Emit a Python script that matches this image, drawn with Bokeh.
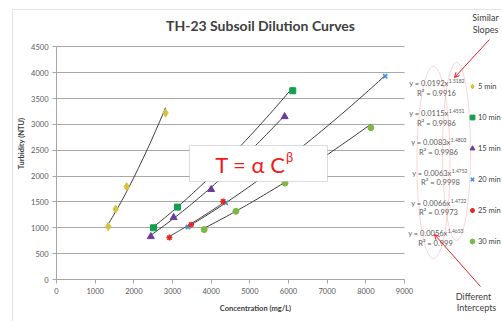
import numpy as np
from bokeh.plotting import figure
from bokeh.models import (Label, Legend, LegendItem, PolyAnnotation, BoxAnnotation,
                          Arrow, OpenHead, FixedTicker, Range1d)
from bokeh.embed import file_html
from bokeh.resources import INLINE

# ---------------- data ----------------
series_names = ["5 min", "10 min", "15 min", "20 min", "25 min", "30 min"]
conc_5 = [1340, 1530, 1815, 2820]
turb_5 = [1025, 1360, 1795, 3220]
conc_10 = [2510, 3130, 6110]
turb_10 = [1000, 1400, 3650]
conc_15 = [2440, 3030, 4000, 5900]
turb_15 = [830, 1200, 1740, 3150]
conc_20 = [3400, 4380, 8500]
turb_20 = [1015, 1480, 3930]
conc_25 = [2920, 3480, 4310]
turb_25 = [810, 1060, 1510]
conc_30 = [3820, 4640, 5910, 8130]
turb_30 = [965, 1320, 1865, 2935]
fit_alpha = [0.0192, 0.0115, 0.0083, 0.0063, 0.0066, 0.0056]
fit_beta = [1.5182, 1.4551, 1.4803, 1.4752, 1.4722, 1.4653]
alpha_text = ["0.0192", "0.0115", "0.0083", "0.0063", "0.0066", "0.0056"]
beta_text = ["1.5182", "1.4551", "1.4803", "1.4752", "1.4722", "1.4653"]
r2_text = ["0.9916", "0.9986", "0.9986", "0.9998", "0.9973", "0.999"]
x_ticks = [0, 1000, 2000, 3000, 4000, 5000, 6000, 7000, 8000, 9000]
y_ticks = [0, 500, 1000, 1500, 2000, 2500, 3000, 3500, 4000, 4500]
X_MAX, Y_MAX = 9000, 4500

conc = [conc_5, conc_10, conc_15, conc_20, conc_25, conc_30]
turb = [turb_5, turb_10, turb_15, turb_20, turb_25, turb_30]

# ---------------- styles / layout ----------------
markers = ["diamond", "square", "triangle", "x", "asterisk", "circle"]
colors = ["#D9C13C", "#12A04E", "#6A3C9E", "#3C8ED8", "#E8261E", "#7DB845"]
sizes = [8, 6, 7, 6, 6, 6]
line_widths = [1, 1, 1, 1.5, 1.5, 1]
FONT = "Lato"
GRAY = "#595959"
DARK = "#404040"

W, H = 502, 321
PX_X0, PX_X1 = 56.0, 404.0      # pixel columns of x=0 and x=X_MAX
PX_Y0, PX_Y1 = 279.0, 46.3      # pixel rows of y=0 and y=Y_MAX
UX = X_MAX / (PX_X1 - PX_X0)
UY = Y_MAX / (PX_Y0 - PX_Y1)


def DX(px):
    return (px - PX_X0) * UX


def DY(py):
    return (PX_Y0 - py) * UY


p = figure(width=W, height=H,
           x_range=Range1d(DX(0), DX(W)), y_range=Range1d(DY(H), DY(0)),
           output_backend="svg", toolbar_location=None,
           min_border_left=0, min_border_right=0, min_border_top=0, min_border_bottom=0)
p.outline_line_color = None
p.background_fill_color = "white"
p.border_fill_color = "white"
p.xgrid.visible = False
p.ygrid.grid_line_color = "#A8A8A8"
p.ygrid.grid_line_width = 1
p.ygrid.bounds = (0, Y_MAX)
p.ygrid.cross_bounds = (0, X_MAX)

for ax, ticks, bnd in ((p.xaxis, x_ticks, (0, X_MAX)), (p.yaxis, y_ticks, (0, Y_MAX))):
    ax.ticker = FixedTicker(ticks=ticks)
    ax.fixed_location = 0
    ax.bounds = bnd
    ax.axis_line_color = "#A6A6A6"
    ax.major_tick_line_color = "#A6A6A6"
    ax.major_tick_out = 4
    ax.major_tick_in = 0
    ax.minor_tick_line_color = None
    ax.major_label_text_font = FONT
    ax.major_label_text_font_size = "7.5px"
    ax.major_label_text_color = GRAY
    ax.major_label_standoff = 4

# chart border
p.add_layout(PolyAnnotation(xs=[DX(12), DX(12), DX(700), DX(700)],
                            ys=[DY(500), DY(9), DY(9), DY(500)],
                            fill_alpha=0, line_color="#A6A6A6", line_width=1))

# title and axis titles
p.add_layout(Label(x=DX(260), y=DY(25), text="TH-23 Subsoil Dilution Curves", text_align="center",
                   text_baseline="middle", text_font=FONT, text_font_size="14px",
                   text_font_style="bold", text_color=DARK))
p.add_layout(Label(x=DX(255), y=DY(308), text="Concentration (mg/L)", text_align="center",
                   text_baseline="middle", text_font=FONT, text_font_size="7.5px",
                   text_font_style="bold", text_color=DARK))
p.add_layout(Label(x=DX(21), y=DY(143), text="Turbidity (NTU)", text_align="center",
                   text_baseline="middle", angle=np.pi / 2, text_font=FONT, text_font_size="7.5px",
                   text_font_style="bold", text_color=DARK))

# trendlines + markers
renderers = []
for i in range(6):
    xs = np.linspace(min(conc[i]), max(conc[i]), 60)
    ys = fit_alpha[i] * xs ** fit_beta[i]
    p.line(xs, ys, line_color="#3A3A3A", line_width=1)
for i in range(6):
    r = p.scatter(conc[i], turb[i], marker=markers[i], size=sizes[i],
                  fill_color=colors[i], line_color=colors[i], line_width=line_widths[i])
    renderers.append(r)

legend = Legend(items=[LegendItem(label=series_names[i], renderers=[renderers[i]]) for i in range(6)],
                location=(466, H - 248), orientation="vertical",
                glyph_width=12, glyph_height=14, label_height=14, spacing=17,
                label_standoff=0, padding=0, margin=0,
                border_line_color=None, background_fill_alpha=0,
                label_text_font=FONT, label_text_font_size="7.5px", label_text_color=DARK)
p.add_layout(legend)

# formula box
p.add_layout(BoxAnnotation(left=DX(189), right=DX(327), top=DY(145), bottom=DY(181),
                           fill_color="white", fill_alpha=1, line_color="#8C8C8C", line_width=1))
p.add_layout(Label(x=DX(285), y=DY(164), text="T = α C", text_align="right", text_baseline="middle",
                   text_font=FONT, text_font_size="22px", text_color="#F21A1A"))
p.add_layout(Label(x=DX(285.5), y=DY(156), text="β", text_align="left", text_baseline="middle",
                   text_font=FONT, text_font_size="13px", text_color="#F21A1A"))

# equations
eq_right = [448, 448, 450, 451, 450, 447]
eq_y = [83, 113, 142, 173, 203, 233]
r_x = [436, 436, 438, 440, 438, 435]
r_y = [93, 123, 152, 182, 212, 243]
for i in range(6):
    p.add_layout(Label(x=DX(eq_right[i]), y=DY(eq_y[i]), text=f"y = {alpha_text[i]}x",
                       text_align="right", text_baseline="middle", text_font=FONT,
                       text_font_size="7.5px", text_color=GRAY))
    p.add_layout(Label(x=DX(eq_right[i] + 0.3), y=DY(eq_y[i] - 3), text=beta_text[i],
                       text_align="left", text_baseline="middle", text_font=FONT,
                       text_font_size="5px", text_color=GRAY))
    p.add_layout(Label(x=DX(r_x[i]), y=DY(r_y[i]), text=f"R² = {r2_text[i]}",
                       text_align="center", text_baseline="middle", text_font=FONT,
                       text_font_size="7.5px", text_color=GRAY))

# red ellipses
t = np.linspace(0, 2 * np.pi, 120)
for cx, cy, ew, eh in ((433, 162, 33, 192), (456, 151, 28, 178)):
    ex = cx + ew / 2 * np.cos(t)
    ey = cy + eh / 2 * np.sin(t)
    p.add_layout(PolyAnnotation(xs=[DX(v) for v in ex], ys=[DY(v) for v in ey],
                                fill_alpha=0, line_color="#F27272", line_width=1))

# callouts
for txt, cx, cy in (("Similar", 485, 17), ("Slopes", 485, 29),
                    ("Different", 473, 296), ("Intercepts", 476, 307)):
    p.add_layout(Label(x=DX(cx), y=DY(cy), text=txt, text_align="center", text_baseline="middle",
                       text_font=FONT, text_font_size="9px", text_color=DARK))
for x0, y0, x1, y1 in ((489, 39, 454, 77), (480, 286, 434, 234)):
    p.add_layout(Arrow(end=OpenHead(size=5, line_color="#F01E1E", line_width=1),
                       x_start=DX(x0), y_start=DY(y0), x_end=DX(x1), y_end=DY(y1),
                       line_color="#F01E1E", line_width=1))

open("out.html", "w").write(file_html(p, INLINE))
